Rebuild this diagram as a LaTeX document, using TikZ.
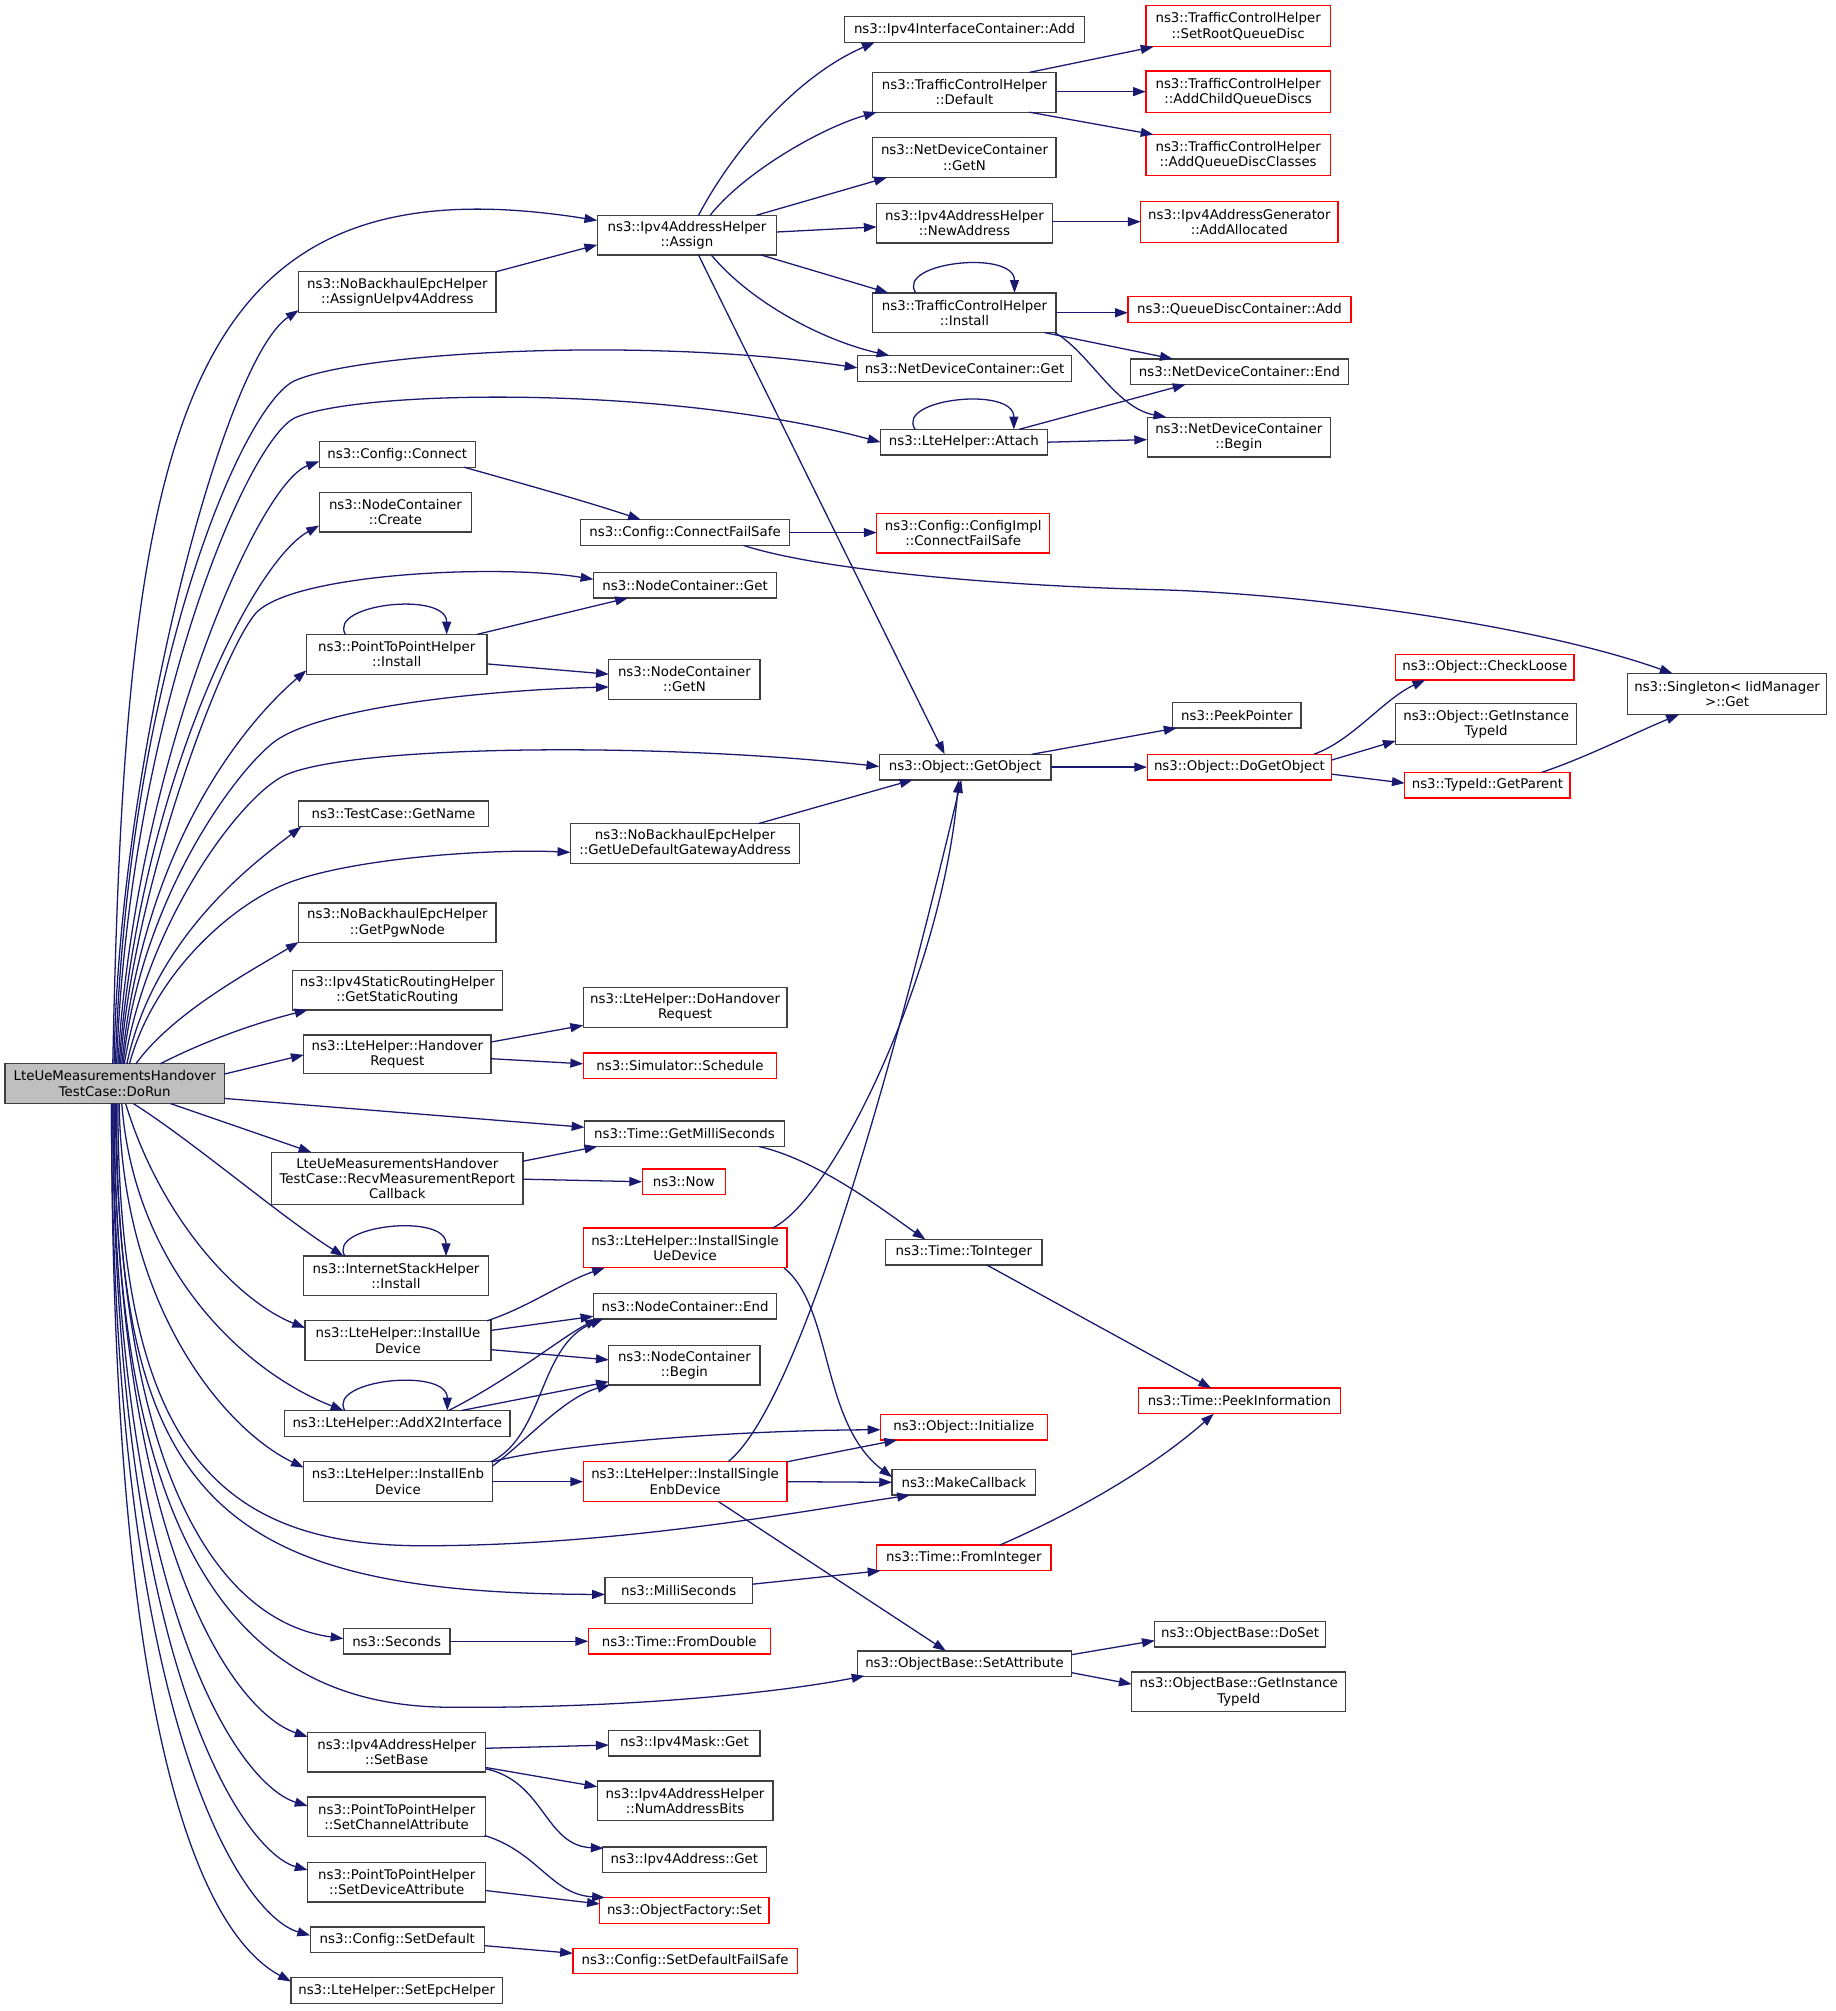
\documentclass[tikz,border=0pt]{standalone}
\usepackage{fontspec}
\newfontfamily\dejavu{DejaVu Sans}
\usetikzlibrary{arrows.meta,calc}
\definecolor{edgeblue}{HTML}{191970}
\definecolor{boxgray}{HTML}{404040}
\definecolor{rootfill}{HTML}{BFBFBF}
\definecolor{boxred}{HTML}{FF0000}
\newcommand\mynode[7]{\node[#1,minimum width=#5pt,minimum height=#6pt] (#2) at (#3,#4) {#7};}
\begin{document}
\begin{tikzpicture}[x=1pt,y=-1pt,
  bx/.style={rectangle,inner sep=0pt,outer sep=0pt,align=center,line width=1pt,fill=white,
     font={\dejavu\fontsize{10.4}{12}\selectfont}},
  nb/.style={bx,draw=boxgray},
  rb/.style={bx,draw=boxred},
  root/.style={bx,draw=boxgray,fill=rootfill},
  cl/.style={draw=edgeblue,line width=1pt,-{Triangle[length=10pt,width=7pt]}}]
\fill[white] (0,0) rectangle (1432,1569);
\useasboundingbox (0,0) rectangle (1432,1569);
% ---------- column 1/2
\mynode{root}{DoRun}{89.5}{845.5}{171}{31}{LteUeMeasurementsHandover\\TestCase::DoRun}
\mynode{nb}{assignUe}{310}{228}{154}{32}{ns3::NoBackhaulEpcHelper\\::AssignUeIpv4Address}
\mynode{nb}{cfgConnect}{310}{354.5}{122}{20}{ns3::Config::Connect}
\mynode{nb}{ncCreate}{308.5}{399.5}{119}{31}{ns3::NodeContainer\\::Create}
\mynode{nb}{p2pInstall}{309.5}{510.5}{141}{31}{ns3::PointToPointHelper\\::Install}
\mynode{nb}{getName}{307}{635}{148}{20}{ns3::TestCase::GetName}
\mynode{nb}{getPgw}{310}{720}{154}{31}{ns3::NoBackhaulEpcHelper\\::GetPgwNode}
\mynode{nb}{getStatic}{310}{772.5}{164}{31}{ns3::Ipv4StaticRoutingHelper\\::GetStaticRouting}
\mynode{nb}{handover}{310}{822.5}{146}{30}{ns3::LteHelper::Handover\\Request}
\mynode{nb}{recv}{310}{919.5}{196}{41}{LteUeMeasurementsHandover\\TestCase::RecvMeasurementReport\\Callback}
\mynode{nb}{inetInstall}{309}{995.5}{144}{31}{ns3::InternetStackHelper\\::Install}
\mynode{nb}{installUe}{310.5}{1046}{145}{31}{ns3::LteHelper::InstallUe\\Device}
\mynode{nb}{addX2}{310}{1110.5}{176}{20}{ns3::LteHelper::AddX2Interface}
\mynode{nb}{installEnb}{310.5}{1156}{147}{31}{ns3::LteHelper::InstallEnb\\Device}
\mynode{nb}{seconds}{309.5}{1280.5}{83}{20}{ns3::Seconds}
\mynode{nb}{setBase}{309.5}{1367}{139}{31}{ns3::Ipv4AddressHelper\\::SetBase}
\mynode{nb}{setChan}{309.5}{1417.5}{139}{31}{ns3::PointToPointHelper\\::SetChannelAttribute}
\mynode{nb}{setDev}{309.5}{1468.5}{139}{31}{ns3::PointToPointHelper\\::SetDeviceAttribute}
\mynode{nb}{setDefault}{310}{1513.5}{136}{20}{ns3::Config::SetDefault}
\mynode{nb}{setEpc}{309.5}{1553}{165}{20}{ns3::LteHelper::SetEpcHelper}
% ---------- column 3
\mynode{nb}{assign}{536}{183.5}{140}{31}{ns3::Ipv4AddressHelper\\::Assign}
\mynode{nb}{connectFS}{534.5}{415.5}{163}{20}{ns3::Config::ConnectFailSafe}
\mynode{nb}{ncGet}{534.5}{456.5}{143}{20}{ns3::NodeContainer::Get}
\mynode{nb}{ncGetN}{534}{530}{118}{31}{ns3::NodeContainer\\::GetN}
\mynode{nb}{getUeGw}{534.5}{658}{179}{31}{ns3::NoBackhaulEpcHelper\\::GetUeDefaultGatewayAddress}
\mynode{nb}{doHandover}{534.5}{786}{159}{31}{ns3::LteHelper::DoHandover\\Request}
\mynode{rb}{schedule}{530.5}{831.5}{151}{20}{ns3::Simulator::Schedule}
\mynode{nb}{getMilli}{534}{884.5}{156}{20}{ns3::Time::GetMilliSeconds}
\mynode{rb}{now}{533.5}{922}{65}{20}{ns3::Now}
\mynode{rb}{singleUe}{534.5}{973.5}{159}{31}{ns3::LteHelper::InstallSingle\\UeDevice}
\mynode{nb}{ncEnd}{534.5}{1019}{143}{20}{ns3::NodeContainer::End}
\mynode{nb}{ncBegin}{534}{1065}{118}{31}{ns3::NodeContainer\\::Begin}
\mynode{rb}{singleEnb}{534.5}{1156}{159}{31}{ns3::LteHelper::InstallSingle\\EnbDevice}
\mynode{nb}{milli}{529.5}{1241}{115}{20}{ns3::MilliSeconds}
\mynode{rb}{fromDouble}{530}{1280.5}{142}{20}{ns3::Time::FromDouble}
\mynode{nb}{maskGet}{534}{1360}{118}{20}{ns3::Ipv4Mask::Get}
\mynode{nb}{numBits}{534.5}{1405}{137}{31}{ns3::Ipv4AddressHelper\\::NumAddressBits}
\mynode{nb}{addrGet}{534}{1451}{128}{20}{ns3::Ipv4Address::Get}
\mynode{rb}{factSet}{534}{1490.5}{132}{20}{ns3::ObjectFactory::Set}
\mynode{rb}{setDefFS}{534.5}{1530}{175}{20}{ns3::Config::SetDefaultFailSafe}
% ---------- column 4
\mynode{nb}{ifAdd}{752.5}{23}{187}{20}{ns3::Ipv4InterfaceContainer::Add}
\mynode{nb}{tchDefault}{752.5}{72}{143}{31}{ns3::TrafficControlHelper\\::Default}
\mynode{nb}{ndcGetN}{752.5}{123}{143}{31}{ns3::NetDeviceContainer\\::GetN}
\mynode{nb}{newAddr}{752.5}{174}{137}{31}{ns3::Ipv4AddressHelper\\::NewAddress}
\mynode{nb}{tchInstall}{752.5}{244}{143}{31}{ns3::TrafficControlHelper\\::Install}
\mynode{nb}{ndcGet}{752.5}{287.5}{167}{20}{ns3::NetDeviceContainer::Get}
\mynode{nb}{attach}{752}{345}{130}{20}{ns3::LteHelper::Attach}
\mynode{rb}{cfgImpl}{751.5}{416}{135}{31}{ns3::Config::ConfigImpl\\::ConnectFailSafe}
\mynode{nb}{getObject}{753}{598.5}{134}{20}{ns3::Object::GetObject}
\mynode{nb}{toInteger}{752}{977}{122}{20}{ns3::Time::ToInteger}
\mynode{rb}{initialize}{752}{1113.5}{130}{20}{ns3::Object::Initialize}
\mynode{nb}{makeCb}{752}{1156.5}{112}{20}{ns3::MakeCallback}
\mynode{rb}{fromInt}{752}{1215.5}{136}{20}{ns3::Time::FromInteger}
\mynode{nb}{setAttr}{752.5}{1298}{167}{20}{ns3::ObjectBase::SetAttribute}
% ---------- column 5
\mynode{rb}{setRoot}{966}{20.5}{144}{32}{ns3::TrafficControlHelper\\::SetRootQueueDisc}
\mynode{rb}{addChild}{966}{71.5}{144}{32}{ns3::TrafficControlHelper\\::AddChildQueueDiscs}
\mynode{rb}{addClasses}{966}{121}{144}{32}{ns3::TrafficControlHelper\\::AddQueueDiscClasses}
\mynode{rb}{addAlloc}{967}{173}{154}{32}{ns3::Ipv4AddressGenerator\\::AddAllocated}
\mynode{rb}{qdAdd}{967}{241.5}{174}{20}{ns3::QueueDiscContainer::Add}
\mynode{nb}{ndcEnd}{967}{290}{170}{20}{ns3::NetDeviceContainer::End}
\mynode{nb}{ndcBegin}{966.5}{341}{143}{31}{ns3::NetDeviceContainer\\::Begin}
\mynode{nb}{peek}{965}{558}{100}{20}{ns3::PeekPointer}
\mynode{rb}{doGetObject}{967}{598.5}{144}{20}{ns3::Object::DoGetObject}
\mynode{rb}{peekInfo}{967}{1093}{158}{20}{ns3::Time::PeekInformation}
\mynode{nb}{doSet}{967.5}{1275}{133}{20}{ns3::ObjectBase::DoSet}
\mynode{nb}{objGetInst}{966.5}{1320}{167}{31}{ns3::ObjectBase::GetInstance\\TypeId}
% ---------- column 6/7
\mynode{rb}{checkLoose}{1158.5}{520.5}{139}{20}{ns3::Object::CheckLoose}
\mynode{nb}{objInstType}{1159.5}{565}{141}{32}{ns3::Object::GetInstance\\TypeId}
\mynode{rb}{getParent}{1160.5}{612.5}{129}{20}{ns3::TypeId::GetParent}
\mynode{nb}{singleton}{1347.5}{541.5}{155}{32}{ns3::Singleton< IidManager\\>::Get}

% ================= edges from DoRun (upwards)
\draw[cl] ($(DoRun)+(-1.5,-15.5)$) .. controls (98,330) and (140,120) .. ($(assign)+(-70,-11.5)$);
\draw[cl] ($(DoRun)+(-0.5,-15.5)$) .. controls (92,600) and (173,282) .. ($(assignUe)+(-77,14)$);
\draw[cl] ($(DoRun)+(0.5,-15.5)$) .. controls (100,520) and (190,315) .. (230,297) .. controls (280,275) and (500,262) .. ($(ndcGet)+(-83.5,-0.5)$);
\draw[cl] ($(DoRun)+(1.5,-15.5)$) .. controls (101,560) and (192,345) .. (230,326) .. controls (280,304) and (520,300) .. ($(attach)+(-65,0)$);
\draw[cl] ($(DoRun)+(2.5,-15.5)$) .. controls (105,600) and (200,378) .. ($(cfgConnect)+(-61,5.5)$);
\draw[cl] ($(DoRun)+(3.5,-15.5)$) .. controls (108,620) and (195,440) .. ($(ncCreate)+(-59.5,10.5)$);
\draw[cl] ($(DoRun)+(4.5,-15.5)$) .. controls (104,690) and (175,505) .. (200,478) .. controls (230,447) and (390,440) .. ($(ncGet)+(-71.5,-4.5)$);
\draw[cl] ($(DoRun)+(5.5,-15.5)$) .. controls (112,660) and (190,565) .. ($(p2pInstall)+(-70.5,12.5)$);
\draw[cl] ($(DoRun)+(6.5,-15.5)$) .. controls (110,700) and (185,600) .. (215,578) .. controls (255,550) and (390,538) .. ($(ncGetN)+(-59,6)$);
\draw[cl] ($(DoRun)+(7.5,-15.5)$) .. controls (115,720) and (185,625) .. (220,606) .. controls (265,582) and (500,578) .. ($(getObject)+(-67,-0.5)$);
\draw[cl] ($(DoRun)+(9.5,-15.5)$) .. controls (120,730) and (200,672) .. ($(getName)+(-72,10)$);
\draw[cl] ($(DoRun)+(11.5,-15.5)$) .. controls (120,760) and (180,707) .. (222,690) .. controls (270,670) and (380,662) .. ($(getUeGw)+(-89.5,7)$);
\draw[cl] ($(DoRun)+(16.5,-15.5)$) .. controls (135,790) and (195,758) .. ($(getPgw)+(-77,15)$);
\draw[cl] ($(DoRun)+(35.5,-15.5)$) .. controls (160,812) and (200,798) .. ($(getStatic)+(-70,15.5)$);
\draw[cl] ($(DoRun)+(85.5,-7.5)$) -- ($(handover)+(-73,0.5)$);
\draw[cl] ($(DoRun)+(85.5,11.5)$) -- ($(getMilli)+(-78,-5)$);
% ================= edges from DoRun (downwards)
\draw[cl] ($(DoRun)+(43.5,15.5)$) -- ($(recv)+(-67,-20.5)$);
\draw[cl] ($(DoRun)+(14.5,15.5)$) .. controls (150,890) and (220,950) .. ($(inetInstall)+(-41,-15.5)$);
\draw[cl] ($(DoRun)+(8.5,15.5)$) .. controls (125,950) and (185,1015) .. ($(installUe)+(-72.5,-10)$);
\draw[cl] ($(DoRun)+(5.5,15.5)$) .. controls (105,990) and (190,1070) .. ($(addX2)+(-42,-10)$);
\draw[cl] ($(DoRun)+(3.5,15.5)$) .. controls (95,1020) and (175,1115) .. ($(installEnb)+(-73.5,-11)$);
\draw[cl] ($(DoRun)+(2.5,15.5)$) .. controls (92,1130) and (170,1206) .. (330,1206) .. controls (480,1206) and (620,1180) .. ($(makeCb)+(-42,10)$);
\draw[cl] ($(DoRun)+(1.5,15.5)$) .. controls (90,1170) and (170,1243) .. ($(milli)+(-57.5,3)$);
\draw[cl] ($(DoRun)+(0.5,15.5)$) .. controls (92,1150) and (170,1265) .. ($(seconds)+(-41.5,-2)$);
\draw[cl] ($(DoRun)+(-0.5,15.5)$) .. controls (89,1230) and (200,1331) .. (350,1332) .. controls (480,1333) and (600,1322) .. ($(setAttr)+(-78,9.5)$);
\draw[cl] ($(DoRun)+(-0.5,15.5)$) .. controls (90,1200) and (180,1335) .. ($(setBase)+(-69.5,-12)$);
\draw[cl] ($(DoRun)+(-1.5,15.5)$) .. controls (89,1250) and (185,1392) .. ($(setChan)+(-69.5,-8.5)$);
\draw[cl] ($(DoRun)+(-1.5,15.5)$) .. controls (88,1300) and (190,1445) .. ($(setDev)+(-69.5,-9.5)$);
\draw[cl] ($(DoRun)+(-2.5,15.5)$) .. controls (87,1350) and (190,1495) .. ($(setDefault)+(-68,-3.5)$);
\draw[cl] ($(DoRun)+(-2.5,15.5)$) .. controls (87,1400) and (170,1515) .. ($(setEpc)+(-82.5,-7)$);

% ================= other edges
\draw[cl] ($(assignUe)+(77,-16)$) -- ($(assign)+(-70,7.5)$);
\draw[cl] ($(assign)+(9,-15.5)$) .. controls (570,120) and (620,60) .. ($(ifAdd)+(-70,10)$);
\draw[cl] ($(assign)+(18,-15.5)$) .. controls (580,135) and (640,100) .. ($(tchDefault)+(-68.5,15.5)$);
\draw[cl] ($(assign)+(54,-15.5)$) -- ($(ndcGetN)+(-60.5,15.5)$);
\draw[cl] ($(assign)+(70,-2.5)$) -- ($(newAddr)+(-68.5,3)$);
\draw[cl] ($(assign)+(58,15.5)$) -- ($(tchInstall)+(-59.5,-15.5)$);
\draw[cl] ($(assign)+(19,15.5)$) .. controls (585,235) and (640,265) .. ($(ndcGet)+(-58.5,-10)$);
\draw[cl] ($(assign)+(9,15.5)$) -- ($(getObject)+(-16,-10)$);
\draw[cl] ($(tchDefault)+(50.5,-15.5)$) -- ($(setRoot)+(-66,16)$);
\draw[cl] ($(tchDefault)+(71.5,-0.5)$) -- ($(addChild)+(-72,0)$);
\draw[cl] ($(tchDefault)+(50.5,15.5)$) -- ($(addClasses)+(-66,-16)$);
\draw[cl] ($(newAddr)+(68.5,-1)$) -- ($(addAlloc)+(-77,0)$);
\draw[cl] ($(tchInstall.north)+(-38,0)$) .. controls ($(tchInstall.north)+(-54,-24)$) and ($(tchInstall.north)+(39,-34)$) .. ($(tchInstall.north)+(39,0)$);
\draw[cl] ($(tchInstall)+(71.5,0)$) -- ($(qdAdd)+(-87,2.5)$);
\draw[cl] ($(tchInstall)+(62.5,15.5)$) -- ($(ndcEnd)+(-52,-10)$);
\draw[cl] ($(tchInstall)+(70.5,15.5)$) .. controls (850,275) and (870,318) .. ($(ndcBegin)+(-56.5,-15.5)$);
\draw[cl] ($(attach.north)+(-38,0)$) .. controls ($(attach.north)+(-54,-24)$) and ($(attach.north)+(39,-34)$) .. ($(attach.north)+(39,0)$);
\draw[cl] ($(attach)+(43,-10)$) -- ($(ndcEnd)+(-42,10)$);
\draw[cl] ($(attach)+(65,0)$) -- ($(ndcBegin)+(-71.5,2)$);
\draw[cl] ($(cfgConnect)+(52,10)$) .. controls (410,378) and (460,392) .. ($(connectFS)+(-34.5,-10)$);
\draw[cl] ($(connectFS)+(81.5,0)$) -- ($(cfgImpl)+(-67.5,-0.5)$);
\draw[cl] ($(connectFS)+(45.5,10)$) .. controls (640,445) and (780,457) .. (900,460) .. controls (1020,463) and (1200,488) .. ($(singleton)+(-42.5,-16)$);
\draw[cl] ($(p2pInstall.north)+(-40,0)$) .. controls ($(p2pInstall.north)+(-54,-24)$) and ($(p2pInstall.north)+(39,-34)$) .. ($(p2pInstall.north)+(39,0)$);
\draw[cl] ($(p2pInstall)+(62.5,-15.5)$) -- ($(ncGet)+(-44.5,10)$);
\draw[cl] ($(p2pInstall)+(70.5,7.5)$) -- ($(ncGetN)+(-59,-4)$);
\draw[cl] ($(getObject)+(52,-10)$) -- ($(peek)+(-47,10)$);
\draw[cl] ($(getObject)+(67,0)$) -- ($(doGetObject)+(-72,0)$);
\draw[cl] ($(doGetObject)+(58,-10)$) .. controls (1055,578) and (1080,545) .. ($(checkLoose)+(-46.5,10)$);
\draw[cl] ($(doGetObject)+(72,-5.5)$) -- ($(objInstType)+(-70.5,13)$);
\draw[cl] ($(doGetObject)+(72,5.5)$) -- ($(getParent)+(-64.5,-1.5)$);
\draw[cl] ($(getParent)+(42.5,-10)$) .. controls (1235,592) and (1275,572) .. ($(singleton)+(-37.5,16)$);
\draw[cl] ($(getUeGw)+(57.5,-15.5)$) -- ($(getObject)+(-41,10)$);
\draw[cl] ($(handover)+(73,-9.5)$) -- ($(doHandover)+(-79.5,14)$);
\draw[cl] ($(handover)+(73,3.5)$) -- ($(schedule)+(-75.5,-1.5)$);
\draw[cl] ($(recv)+(98,-13.5)$) -- ($(getMilli)+(-68,10)$);
\draw[cl] ($(recv)+(98,0.5)$) -- ($(now)+(-32.5,0)$);
\draw[cl] ($(getMilli)+(58,10)$) .. controls (640,905) and (697,950) .. ($(toInteger)+(-30,-10)$);
\draw[cl] ($(toInteger)+(18,10)$) -- ($(peekInfo)+(-22,-10)$);
\draw[cl] ($(singleUe)+(68.5,-15.5)$) .. controls (650,935) and (735,760) .. ($(getObject)+(-5,10)$);
\draw[cl] ($(singleUe)+(77,15.5)$) .. controls (650,1020) and (640,1110) .. ($(makeCb)+(-56,-4)$);
\draw[cl] ($(inetInstall.north)+(-40,0)$) .. controls ($(inetInstall.north)+(-54,-24)$) and ($(inetInstall.north)+(39,-34)$) .. ($(inetInstall.north)+(39,0)$);
\draw[cl] ($(installUe)+(69.5,-15.5)$) .. controls (412,1020) and (440,1000) .. ($(singleUe)+(-62.5,15.5)$);
\draw[cl] ($(installUe)+(72.5,-8)$) -- ($(ncEnd)+(-71.5,8)$);
\draw[cl] ($(installUe)+(72.5,7)$) -- ($(ncBegin)+(-59,-4)$);
\draw[cl] ($(addX2.north)+(-41,0)$) .. controls ($(addX2.north)+(-55,-24)$) and ($(addX2.north)+(39,-34)$) .. ($(addX2.north)+(39,0)$);
\draw[cl] ($(addX2)+(40,-10)$) .. controls (400,1075) and (440,1042) .. ($(ncEnd)+(-68,10)$);
\draw[cl] ($(addX2)+(50,-10)$) -- ($(ncBegin)+(-59,13)$);
\draw[cl] ($(installEnb)+(72.5,-15.5)$) .. controls (425,1120) and (420,1050) .. ($(ncEnd)+(-64,10)$);
\draw[cl] ($(installEnb)+(73.5,-12)$) .. controls (410,1125) and (440,1090) .. ($(ncBegin)+(-58,15.5)$);
\draw[cl] ($(installEnb)+(73.5,-15.5)$) .. controls (430,1128) and (560,1116) .. ($(initialize)+(-65,2)$);
\draw[cl] ($(installEnb)+(73.5,0)$) -- ($(singleEnb)+(-79.5,0)$);
\draw[cl] ($(singleEnb)+(79.5,-15.5)$) -- ($(initialize)+(-52,10)$);
\draw[cl] ($(singleEnb)+(79.5,0)$) -- ($(makeCb)+(-56,0)$);
\draw[cl] ($(singleEnb)+(33.5,-15.5)$) .. controls (625,1095) and (700,820) .. ($(getObject)+(-3,10)$);
\draw[cl] ($(singleEnb)+(26,15.5)$) -- ($(setAttr)+(-14.5,-10)$);
\draw[cl] ($(milli)+(57.5,-5)$) -- ($(fromInt)+(-65,10)$);
\draw[cl] ($(fromInt)+(28,-10)$) .. controls (850,1175) and (905,1140) .. ($(peekInfo)+(-20,10)$);
\draw[cl] ($(seconds)+(41.5,0)$) -- ($(fromDouble)+(-71,0)$);
\draw[cl] ($(setAttr)+(83.5,-7)$) -- ($(doSet)+(-66.5,5)$);
\draw[cl] ($(setAttr)+(83.5,7)$) -- ($(objGetInst)+(-83.5,-6)$);
\draw[cl] ($(setBase)+(69.5,-3)$) -- ($(maskGet)+(-59,1.5)$);
\draw[cl] ($(setBase)+(69.5,12)$) -- ($(numBits)+(-68.5,-11)$);
\draw[cl] ($(setBase)+(69.5,13)$) .. controls (425,1390) and (425,1440) .. ($(addrGet)+(-63,-9)$);
\draw[cl] ($(setChan)+(68.5,14.5)$) .. controls (420,1445) and (430,1478) .. ($(factSet)+(-62,-10)$);
\draw[cl] ($(setDev)+(69.5,6.5)$) -- ($(factSet)+(-66,-5)$);
\draw[cl] ($(setDefault)+(68,4.5)$) -- ($(setDefFS)+(-87.5,-6)$);
\end{tikzpicture}
\end{document}
